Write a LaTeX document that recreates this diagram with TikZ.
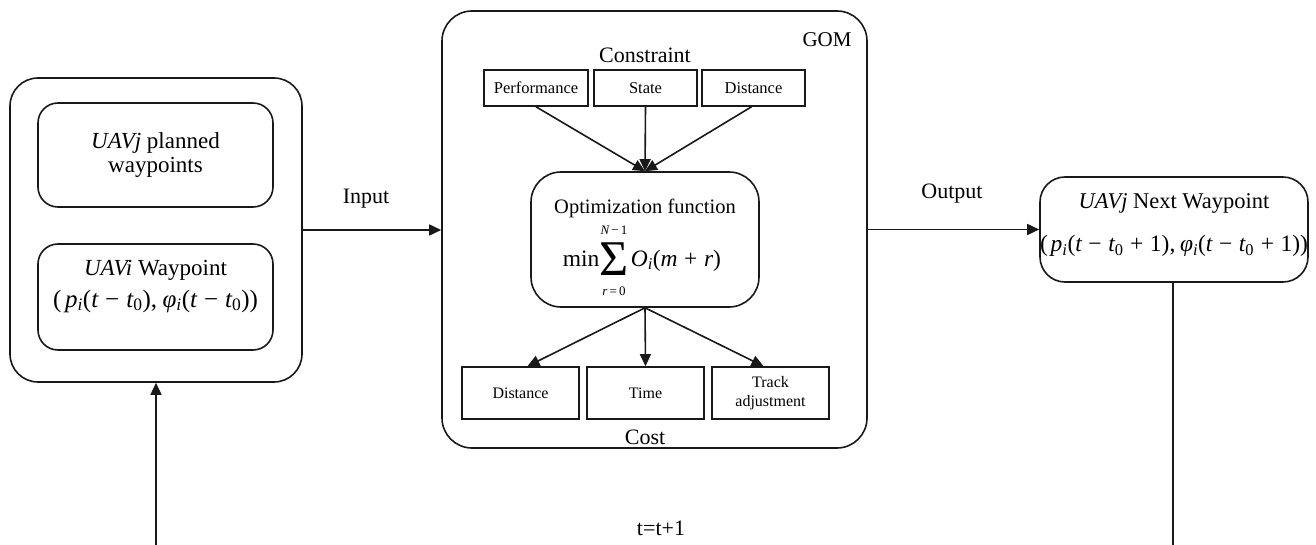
\documentclass[tikz,border=0pt]{standalone}
\usepackage{fontspec}
\setmainfont{Liberation Serif}
\usetikzlibrary{arrows.meta}
\newcommand\itx[1]{{\itshape #1}}
\newcommand\subx[1]{\textsubscript{#1}}
\newcommand\mnus{\hspace{0.28em}−\hspace{0.28em}}
\newcommand\plsx{\hspace{0.28em}+\hspace{0.28em}}
\begin{document}
\begin{tikzpicture}[x=1pt,y=-1pt,
  line width=1.6pt,
  conn/.style={draw=black!90, line width=1.6pt},
  arr/.style={conn,-{Triangle[length=12pt,width=11pt]}},
  rbox/.style={draw=black!90, line width=1.6pt, rounded corners=#1, inner sep=0pt, align=center},
  sbox/.style={draw=black!90, line width=1.6pt, inner sep=0pt, align=center, font=\fontsize{16.5}{18}\selectfont},
  big/.style={font=\fontsize{22}{26}\selectfont, inner sep=0pt},
  txt/.style={inner sep=0pt, align=center},
]
\useasboundingbox (0,0) rectangle (1316,545);
% left block
\node[rbox=28pt, minimum width=292pt, minimum height=304pt] (L) at (156,230) {};
\node[rbox=20pt, minimum width=235pt, minimum height=104pt, font=\fontsize{23}{24}\selectfont] (L1) at (155.5,155) {\itx{UAVj} planned\\waypoints};
\node[rbox=20pt, minimum width=235pt, minimum height=106pt] (L2) at (155.5,297) {};
\node[txt, font=\fontsize{23}{26}\selectfont] (L2a) at (155.5,270) {\itx{UAVi} Waypoint};
\node[txt, font=\fontsize{25}{26}\selectfont] (L2b) at (155.5,301) {(\hspace{0.15em}\itx{p}\subx{\itx{i}}(\itx{t}\mnus\itx{t}\subx{0}),\hspace{0.22em}\itx{φ}\subx{\itx{i}}(\itx{t}\mnus\itx{t}\subx{0}))};
% GOM block
\node[rbox=30pt, minimum width=425pt, minimum height=437pt] (G) at (654.5,229.5) {};
\node[big, font=\fontsize{21}{24}\selectfont] (gomlabel) at (827,40) {GOM};
\node[big] (conlabel) at (645,55) {Constraint};
\node[sbox, minimum width=104pt, minimum height=36pt] (C1) at (536,88) {Performance};
\node[sbox, minimum width=103pt, minimum height=36pt] (C2) at (645.5,88) {State};
\node[sbox, minimum width=103pt, minimum height=36pt] (C3) at (753.5,88) {Distance};
\node[rbox=30pt, minimum width=228pt, minimum height=135pt] (O) at (645,239.5) {};
\node[txt, font=\fontsize{20.5}{24}\selectfont] (otitle) at (645,208) {Optimization function};
\node[txt, anchor=base west, font=\fontsize{23.5}{26}\selectfont] (omin) at (562,266) {min};
\node[txt, font=\fontsize{50}{52}\selectfont] (osig) at (614,259) {Σ};
\node[txt, font=\fontsize{13}{14}\selectfont] (oup) at (614,230) {\itx{N}\,−\,1};
\node[txt, font=\fontsize{13}{14}\selectfont] (odn) at (614,291) {\itx{r}\,=\,0};
\node[txt, anchor=base west, font=\fontsize{23.5}{26}\selectfont] (orest) at (630,266) {\itx{O}\subx{\itx{i}}(\itx{m}\plsx\itx{r})};
\node[sbox, minimum width=117pt, minimum height=52pt, font=\fontsize{16}{19}\selectfont] (D) at (520.5,393) {Distance};
\node[sbox, minimum width=117pt, minimum height=52pt, font=\fontsize{16}{19}\selectfont] (T) at (645.5,393) {Time};
\node[sbox, minimum width=117pt, minimum height=52pt, font=\fontsize{16}{19}\selectfont] (Tr) at (770.5,393) {Track\\adjustment};
\node[big] (costlabel) at (645,437) {Cost};
% right block
\node[rbox=25pt, minimum width=268pt, minimum height=105pt] (R) at (1174,229.5) {};
\node[txt, font=\fontsize{22.5}{26}\selectfont] (Ra) at (1174,203) {\itx{UAVj} Next Waypoint};
\node[txt, font=\fontsize{23.5}{26}\selectfont] (Rb) at (1174,246) {(\hspace{0.12em}\itx{p}\subx{\itx{i}}(\itx{t}\mnus\itx{t}\subx{0}\plsx 1),\hspace{0.2em}\itx{φ}\subx{\itx{i}}(\itx{t}\mnus\itx{t}\subx{0}\plsx 1))};
% labels
\node[big] (inlabel) at (366,199) {Input};
\node[big] (outlabel) at (952,194) {Output};
\node[big] (tlabel) at (661,528) {t=t+1};
\coordinate (bL) at (156,545);
\coordinate (bR) at (1173,545);
% connectors
\draw[arr] (C1.south) -- (O.north);
\draw[arr] (C2.south) -- (O.north);
\draw[arr] ([xshift=-2pt]C3.south) -- (O.north);
\draw[arr] (O.south) -- ([xshift=7pt]D.north);
\draw[arr] (O.south) -- (T.north);
\draw[arr] (O.south) -- ([xshift=-7pt]Tr.north);
\draw[arr] (L.east) -- (L.east -| G.west);
\draw[arr] (G.east |- R.west) -- (R.west);
\draw[conn] (R.south -| bR) -- (bR);
\draw[arr] (bL) -- (L.south);
\end{tikzpicture}
\end{document}
